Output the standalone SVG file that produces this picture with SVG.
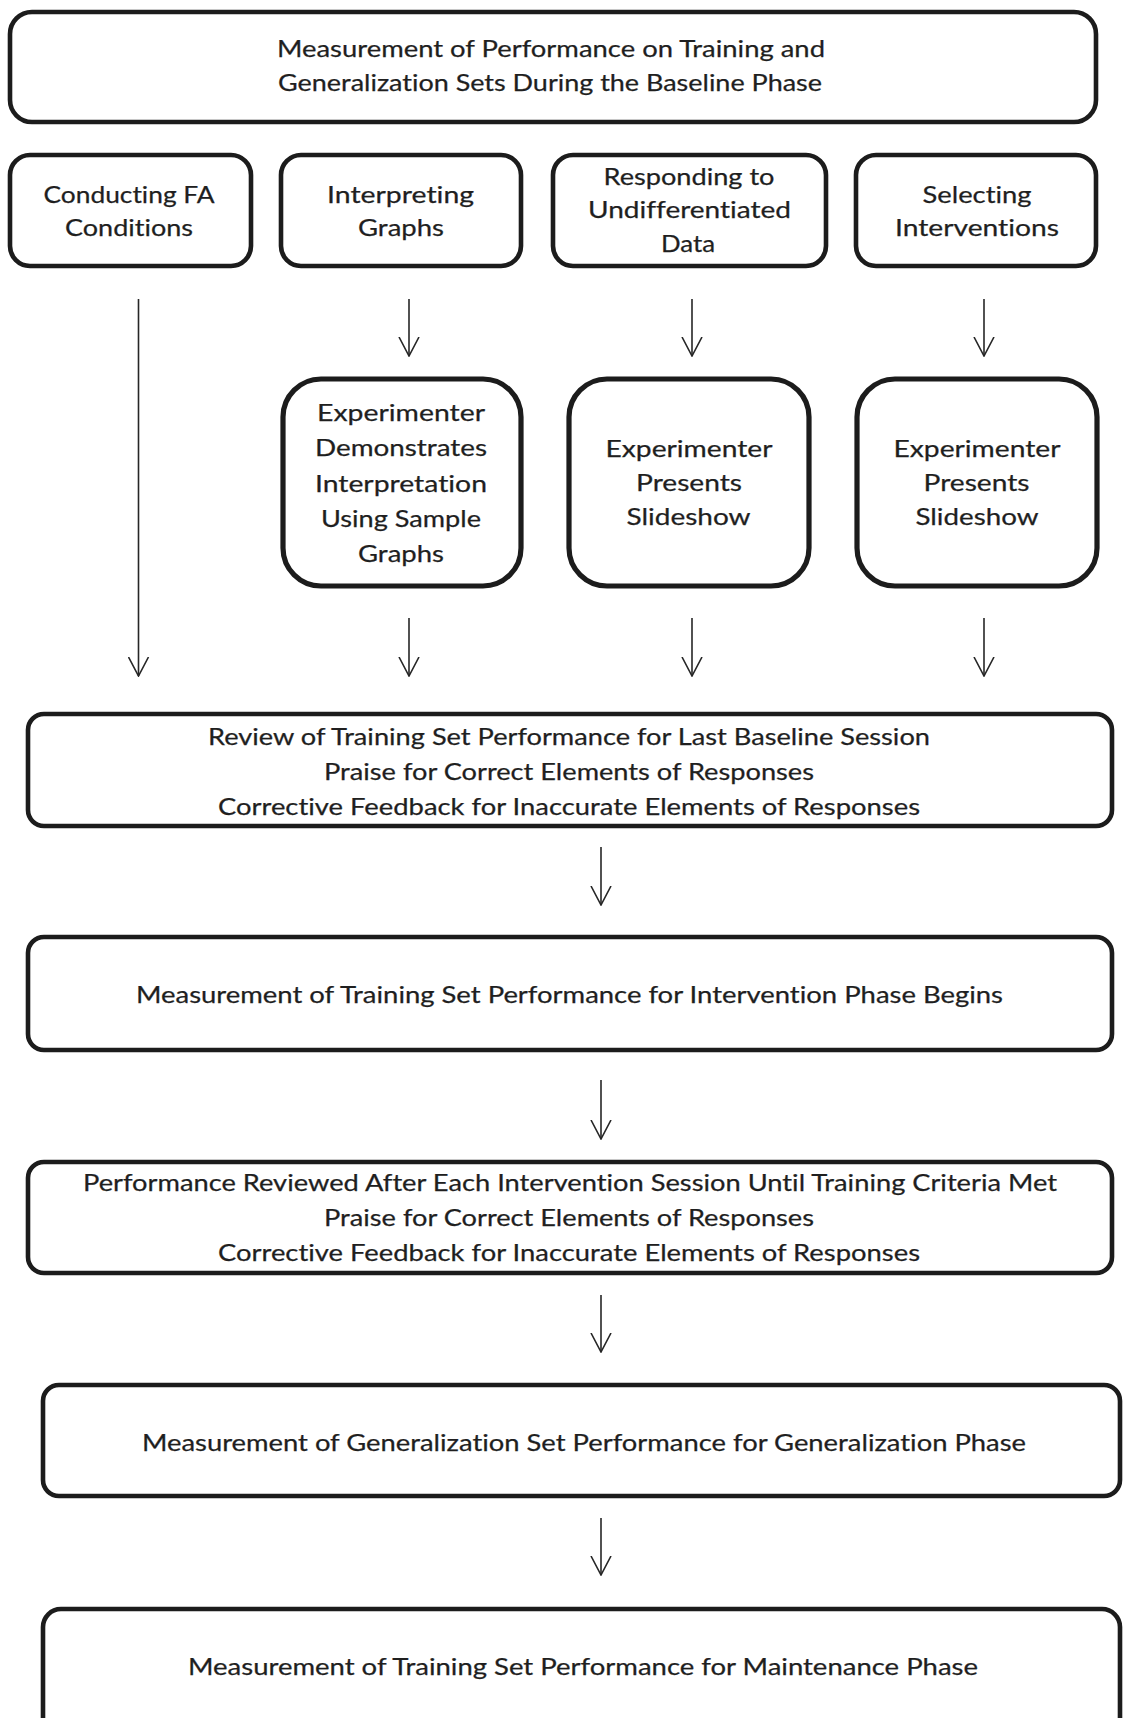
<svg xmlns="http://www.w3.org/2000/svg" width="1123" height="1718" viewBox="0 0 1123 1718">
<style>
.box{fill:#fff;stroke:#1c1c1c;stroke-width:4.6}
.box2{fill:#fff;stroke:#1c1c1c;stroke-width:5.2}
.t{font-family:Lato,"Open Sans","Liberation Sans",sans-serif;font-size:23.5px;fill:#1f1f1f;text-anchor:middle;font-variant-ligatures:none;stroke:#1f1f1f;stroke-width:0.25}
.c{stroke:#262626;stroke-width:1.6;fill:none}
</style>
<defs>
<marker id="ah" viewBox="0 0 20 22" refX="19" refY="11" markerWidth="20" markerHeight="22" markerUnits="userSpaceOnUse" orient="auto">
<path d="M0,1 L19,11 L0,21" fill="none" stroke="#262626" stroke-width="1.6"/>
</marker>
</defs>
<rect width="1123" height="1718" fill="#fff"/>

<g id="connectors">
<line class="c" x1="138.5" y1="299" x2="138.5" y2="676" marker-end="url(#ah)"/>
<line class="c" x1="409" y1="299" x2="409" y2="356" marker-end="url(#ah)"/>
<line class="c" x1="692" y1="299" x2="692" y2="356" marker-end="url(#ah)"/>
<line class="c" x1="984" y1="299" x2="984" y2="356" marker-end="url(#ah)"/>
<line class="c" x1="409" y1="618" x2="409" y2="676" marker-end="url(#ah)"/>
<line class="c" x1="692" y1="618" x2="692" y2="676" marker-end="url(#ah)"/>
<line class="c" x1="984" y1="618" x2="984" y2="676" marker-end="url(#ah)"/>
<line class="c" x1="601" y1="847" x2="601" y2="905" marker-end="url(#ah)"/>
<line class="c" x1="601" y1="1080" x2="601" y2="1139" marker-end="url(#ah)"/>
<line class="c" x1="601" y1="1295" x2="601" y2="1352" marker-end="url(#ah)"/>
<line class="c" x1="601" y1="1518" x2="601" y2="1575" marker-end="url(#ah)"/>
</g>

<g id="baseline">
<rect class="box" x="10" y="12" width="1086" height="110" rx="22"/>
<text class="t" x="551" y="57" textLength="548" lengthAdjust="spacingAndGlyphs">Measurement of Performance on Training and</text>
<text class="t" x="550" y="91" textLength="544" lengthAdjust="spacingAndGlyphs">Generalization Sets During the Baseline Phase</text>
</g>

<g id="conducting">
<rect class="box" x="10" y="155" width="241" height="111" rx="20"/>
<text class="t" x="129" y="203" textLength="171" lengthAdjust="spacingAndGlyphs">Conducting FA</text>
<text class="t" x="129" y="236" textLength="128" lengthAdjust="spacingAndGlyphs">Conditions</text>
</g>

<g id="interpreting">
<rect class="box" x="281" y="155" width="240" height="111" rx="20"/>
<text class="t" x="400.5" y="203" textLength="147" lengthAdjust="spacingAndGlyphs">Interpreting</text>
<text class="t" x="401" y="236" textLength="86" lengthAdjust="spacingAndGlyphs">Graphs</text>
</g>

<g id="responding">
<rect class="box" x="553" y="155" width="273" height="111" rx="20"/>
<text class="t" x="689" y="185" textLength="171" lengthAdjust="spacingAndGlyphs">Responding to</text>
<text class="t" x="689.5" y="218" textLength="203" lengthAdjust="spacingAndGlyphs">Undifferentiated</text>
<text class="t" x="688" y="252" textLength="54" lengthAdjust="spacingAndGlyphs">Data</text>
</g>

<g id="selecting">
<rect class="box" x="856" y="155" width="240" height="111" rx="20"/>
<text class="t" x="977" y="203" textLength="109" lengthAdjust="spacingAndGlyphs">Selecting</text>
<text class="t" x="977" y="236" textLength="164" lengthAdjust="spacingAndGlyphs">Interventions</text>
</g>

<g id="demonstrates">
<rect class="box2" x="283" y="379" width="238" height="207" rx="38"/>
<text class="t" x="401" y="421" textLength="168" lengthAdjust="spacingAndGlyphs">Experimenter</text>
<text class="t" x="401" y="456" textLength="172" lengthAdjust="spacingAndGlyphs">Demonstrates</text>
<text class="t" x="401" y="492" textLength="172" lengthAdjust="spacingAndGlyphs">Interpretation</text>
<text class="t" x="401" y="527" textLength="160" lengthAdjust="spacingAndGlyphs">Using Sample</text>
<text class="t" x="401" y="562" textLength="86" lengthAdjust="spacingAndGlyphs">Graphs</text>
</g>

<g id="slideshow1">
<rect class="box2" x="569" y="379" width="240" height="207" rx="38"/>
<text class="t" x="689" y="457" textLength="167" lengthAdjust="spacingAndGlyphs">Experimenter</text>
<text class="t" x="689" y="491" textLength="106" lengthAdjust="spacingAndGlyphs">Presents</text>
<text class="t" x="688.5" y="525" textLength="124" lengthAdjust="spacingAndGlyphs">Slideshow</text>
</g>

<g id="slideshow2">
<rect class="box2" x="857" y="379" width="240" height="207" rx="38"/>
<text class="t" x="977" y="457" textLength="167" lengthAdjust="spacingAndGlyphs">Experimenter</text>
<text class="t" x="976.5" y="491" textLength="106" lengthAdjust="spacingAndGlyphs">Presents</text>
<text class="t" x="977" y="525" textLength="123" lengthAdjust="spacingAndGlyphs">Slideshow</text>
</g>

<g id="review">
<rect class="box" x="28" y="714" width="1084" height="112" rx="16"/>
<text class="t" x="569" y="745" textLength="722" lengthAdjust="spacingAndGlyphs">Review of Training Set Performance for Last Baseline Session</text>
<text class="t" x="569" y="780" textLength="490" lengthAdjust="spacingAndGlyphs">Praise for Correct Elements of Responses</text>
<text class="t" x="569" y="815" textLength="702" lengthAdjust="spacingAndGlyphs">Corrective Feedback for Inaccurate Elements of Responses</text>
</g>

<g id="intervention">
<rect class="box" x="28" y="937" width="1084" height="113" rx="16"/>
<text class="t" x="569.5" y="1003" textLength="867" lengthAdjust="spacingAndGlyphs">Measurement of Training Set Performance for Intervention Phase Begins</text>
</g>

<g id="reviewed">
<rect class="box" x="28" y="1162" width="1084" height="111" rx="16"/>
<text class="t" x="570" y="1191" textLength="974" lengthAdjust="spacingAndGlyphs">Performance Reviewed After Each Intervention Session Until Training Criteria Met</text>
<text class="t" x="569" y="1226" textLength="490" lengthAdjust="spacingAndGlyphs">Praise for Correct Elements of Responses</text>
<text class="t" x="569" y="1261" textLength="702" lengthAdjust="spacingAndGlyphs">Corrective Feedback for Inaccurate Elements of Responses</text>
</g>

<g id="generalization">
<rect class="box" x="43" y="1385" width="1077" height="111" rx="16"/>
<text class="t" x="584" y="1451" textLength="884" lengthAdjust="spacingAndGlyphs">Measurement of Generalization Set Performance for Generalization Phase</text>
</g>

<g id="maintenance">
<rect class="box" x="43" y="1609" width="1077" height="130" rx="18"/>
<text class="t" x="583" y="1675" textLength="790" lengthAdjust="spacingAndGlyphs">Measurement of Training Set Performance for Maintenance Phase</text>
</g>
</svg>
